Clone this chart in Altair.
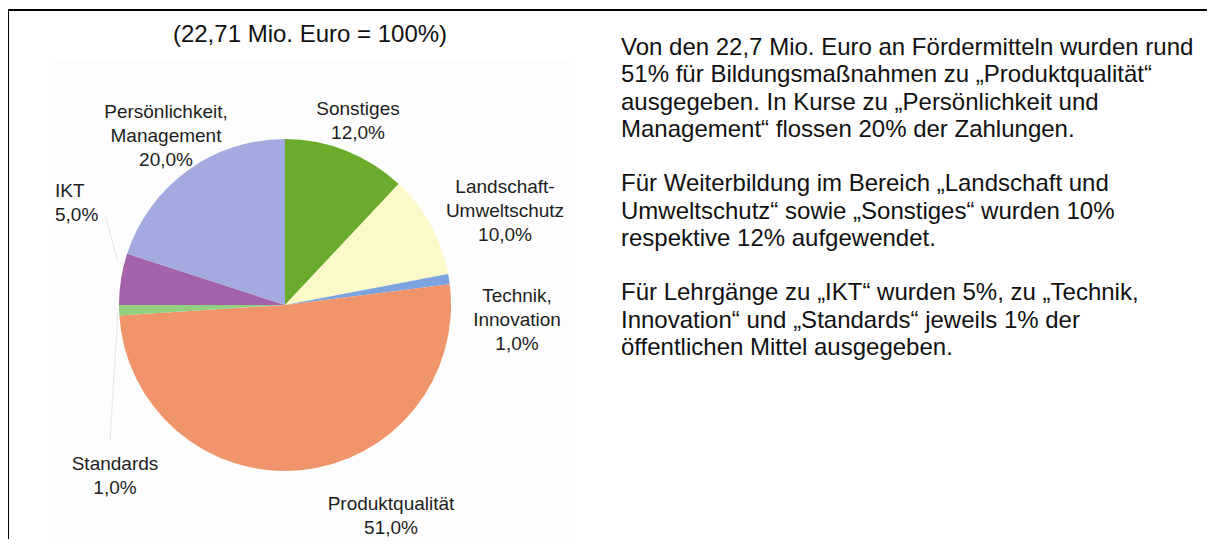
import altair as alt
import pandas as pd

# ---------------- data ----------------
categories = ["Sonstiges", "Landschaft-Umweltschutz", "Technik, Innovation",
              "Produktqualität", "Standards", "IKT", "Persönlichkeit, Management"]
label_names = ["Sonstiges", "Landschaft-\nUmweltschutz", "Technik,\nInnovation",
               "Produktqualität", "Standards", "IKT", "Persönlichkeit,\nManagement"]
shares = [12.0, 10.0, 1.0, 51.0, 1.0, 5.0, 20.0]
colors = ["#6aab2b", "#fbf9c8", "#7ba3e0", "#f0956b", "#92d07f", "#a462ab", "#a2aadf"]

title_text = "(22,71 Mio. Euro = 100%)"
paragraphs = [
    ["Von den 22,7 Mio. Euro an Fördermitteln wurden rund",
     "51% für Bildungsmaßnahmen zu \u201eProduktqualität\u201c",
     "ausgegeben. In Kurse zu \u201ePersönlichkeit und",
     "Management\u201c flossen 20% der Zahlungen."],
    ["Für Weiterbildung im Bereich \u201eLandschaft und",
     "Umweltschutz\u201c sowie \u201eSonstiges\u201c wurden 10%",
     "respektive 12% aufgewendet."],
    ["Für Lehrgänge zu \u201eIKT\u201c wurden 5%, zu \u201eTechnik,",
     "Innovation\u201c und \u201eStandards\u201c jeweils 1% der",
     "öffentlichen Mittel ausgegeben."],
]

# ---------------- layout (annotation positions, chart pixels) ----------------
W, H = 1197, 529
PIE_X, PIE_Y, PIE_R = 275, 295, 166
label_pos = {
    "Sonstiges": (348, 99),
    "Landschaft-Umweltschutz": (495, 177),
    "Technik, Innovation": (507, 286),
    "Produktqualität": (381, 494),
    "Standards": (105, 454),
    "Persönlichkeit, Management": (156, 102),
}
left_label_pos = {"IKT": (45, 181)}
PARA_X, PARA_Y0, LINE_H = 611, 45, 27.25
FONT = "Liberation Sans"

def pct(v):
    return f"{v:.1f}".replace(".", ",") + "%"

df = pd.DataFrame({"cat": categories, "share": shares, "idx": list(range(len(categories)))})

lab_rows, left_rows = [], []
for c, n, v in zip(categories, label_names, shares):
    t = n + "\n" + pct(v)
    if c in label_pos:
        lab_rows.append({"t": t, "x": label_pos[c][0], "y": label_pos[c][1]})
    else:
        left_rows.append({"t": t, "x": left_label_pos[c][0], "y": left_label_pos[c][1]})
lab_df = pd.DataFrame(lab_rows)
left_df = pd.DataFrame(left_rows)

para_rows = []
line_no = 0
for p in paragraphs:
    para_rows.append({"t": "\n".join(p), "x": PARA_X, "y": PARA_Y0 + line_no * LINE_H})
    line_no += len(p) + 1
para_df = pd.DataFrame(para_rows)

xs = alt.Scale(domain=[0, W], nice=False, zero=False)
ys = alt.Scale(domain=[0, H], nice=False, zero=False, reverse=True)
X = lambda f: alt.X(f, type="quantitative", scale=xs, axis=None)
Y = lambda f: alt.Y(f, type="quantitative", scale=ys, axis=None)

# faint background of the original chart picture
bg = alt.Chart(pd.DataFrame({"x": [40], "x2": [560], "y": [50], "y2": [535]})).mark_rect(
    color="#fdfdfd").encode(x=X("x"), x2="x2", y=Y("y"), y2="y2")

# leader lines
lead = alt.Chart(pd.DataFrame({"x": [95, 100], "x2": [108, 108], "y": [205, 430], "y2": [252, 302]})).mark_rule(
    color="#e6e6e6", strokeWidth=1).encode(x=X("x"), x2="x2", y=Y("y"), y2="y2")

pie = alt.Chart(df).mark_arc(radius=PIE_R).encode(
    theta=alt.Theta("share:Q", stack=True),
    color=alt.Color("cat:N", scale=alt.Scale(domain=categories, range=colors), legend=None),
    order=alt.Order("idx:Q"),
    x=alt.value(PIE_X),
    y=alt.value(PIE_Y),
)

labels = alt.Chart(lab_df).mark_text(
    font=FONT, fontSize=19, lineBreak="\n", lineHeight=24, align="center", baseline="middle",
    color="#1e1e1e").encode(x=X("x"), y=Y("y"), text="t:N")

left_labels = alt.Chart(left_df).mark_text(
    font=FONT, fontSize=19, lineBreak="\n", lineHeight=24, align="left", baseline="middle",
    color="#1e1e1e").encode(x=X("x"), y=Y("y"), text="t:N")

title = alt.Chart(pd.DataFrame({"t": [title_text], "x": [300], "y": [25]})).mark_text(
    font=FONT, fontSize=24, align="center", baseline="middle", color="#111111"
).encode(x=X("x"), y=Y("y"), text="t:N")

para = alt.Chart(para_df).mark_text(
    font=FONT, fontSize=24, lineBreak="\n", lineHeight=LINE_H, align="left", baseline="alphabetic",
    color="#111111").encode(x=X("x"), y=Y("y"), text="t:N")

frame_top = alt.Chart(pd.DataFrame({"a": [0]})).mark_rule(color="black", strokeWidth=2, strokeCap="butt").encode(
    x=alt.value(-3), x2=alt.value(W + 20), y=alt.value(0), y2=alt.value(0))
frame_left = alt.Chart(pd.DataFrame({"a": [0]})).mark_rule(color="black", strokeWidth=2, strokeCap="butt").encode(
    x=alt.value(-2), x2=alt.value(-2), y=alt.value(0), y2=alt.value(H + 5))

chart = alt.layer(bg, lead, pie, labels, left_labels, title, para, frame_top, frame_left).properties(
    width=W, height=H,
    autosize=alt.AutoSizeParams(type="none"),
    padding={"left": 2, "top": 2, "right": 0, "bottom": 0},
    background="white",
).configure_view(strokeWidth=0)

chart.save("out.html", embed_options={"renderer": "svg", "actions": False})
